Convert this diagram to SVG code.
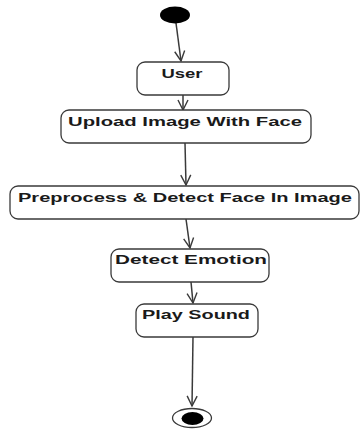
<svg xmlns="http://www.w3.org/2000/svg" width="361" height="430" viewBox="0 0 361 430">
  <defs>
    <style>
      .act { fill: #ffffff; stroke: #3a3a3a; stroke-width: 1.3; }
      .lbl { font-family: "Liberation Sans", Arial, sans-serif; font-weight: bold; font-size: 13px; fill: #1a1a1a; text-anchor: middle; }
      .flow { fill: none; stroke: #3a3a3a; stroke-width: 1.5; marker-end: url(#open); }
    </style>
    <marker id="open" viewBox="0 0 12 12" refX="11" refY="6" markerWidth="12" markerHeight="12" markerUnits="userSpaceOnUse" orient="auto">
      <path d="M1,1 L11,6 L1,11" fill="none" stroke="#3a3a3a" stroke-width="1.4"/>
    </marker>
  </defs>
  <rect width="361" height="430" fill="#ffffff"/>

  <g id="connectors">
    <path class="flow" d="M176,23 L181,61"/>
    <path class="flow" d="M183,95 L183,110"/>
    <path class="flow" d="M185,143 L186,185"/>
    <path class="flow" d="M186,219 L190,248"/>
    <path class="flow" d="M191,282 L193,303"/>
    <path class="flow" d="M193,337 L192,406"/>
  </g>

  <g id="start">
    <ellipse cx="175" cy="15" rx="15" ry="8.5" fill="#000000"/>
  </g>

  <g id="user">
    <rect class="act" x="137" y="62" width="92" height="33" rx="8"/>
    <text class="lbl" x="182" y="77.5" textLength="41" lengthAdjust="spacingAndGlyphs">User</text>
  </g>

  <g id="upload">
    <rect class="act" x="61" y="110" width="250" height="33" rx="8"/>
    <text class="lbl" x="185" y="125.5" textLength="234" lengthAdjust="spacingAndGlyphs">Upload Image With Face</text>
  </g>

  <g id="preprocess">
    <rect class="act" x="10" y="186" width="349" height="33" rx="8"/>
    <text class="lbl" x="185" y="201.5" textLength="334" lengthAdjust="spacingAndGlyphs">Preprocess &amp; Detect Face In Image</text>
  </g>

  <g id="detect-emotion">
    <rect class="act" x="111" y="249" width="158" height="33" rx="8"/>
    <text class="lbl" x="191" y="263.5" textLength="152" lengthAdjust="spacingAndGlyphs">Detect Emotion</text>
  </g>

  <g id="play-sound">
    <rect class="act" x="136" y="304" width="122" height="33" rx="8"/>
    <text class="lbl" x="196" y="318.5" textLength="108" lengthAdjust="spacingAndGlyphs">Play Sound</text>
  </g>

  <g id="end">
    <ellipse cx="192" cy="418" rx="19.5" ry="9.5" fill="#ffffff" stroke="#3a3a3a" stroke-width="1.3"/>
    <ellipse cx="192.5" cy="418.5" rx="11" ry="6.5" fill="#000000"/>
  </g>
</svg>
